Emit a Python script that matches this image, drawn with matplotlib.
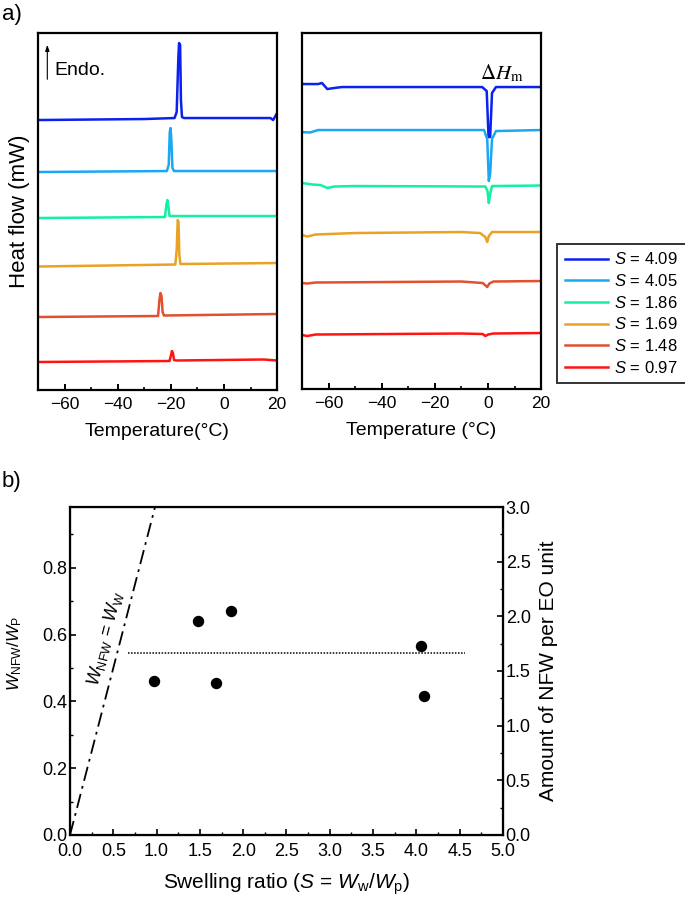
import matplotlib
matplotlib.use("Agg")
import matplotlib.pyplot as plt
from matplotlib import font_manager
from matplotlib.ticker import MultipleLocator

names = {f.name for f in font_manager.fontManager.ttflist}
NARROW = "Liberation Sans Narrow" if "Liberation Sans Narrow" in names else "Liberation Sans"

plt.rcParams["font.family"] = ["Liberation Sans", "DejaVu Sans"]
plt.rcParams["mathtext.fontset"] = "custom"
plt.rcParams["mathtext.rm"] = "Liberation Sans"
plt.rcParams["mathtext.it"] = "Liberation Sans:italic"

# ---- panel a: DSC traces (heat flow in arbitrary, offset units) ----
labels = ["4.09", "4.05", "1.86", "1.69", "1.48", "0.97"]
colors = ["#0c20ee", "#1aa8f5", "#12f0a0", "#e8a224", "#e2502e", "#ff1414"]

# cooling scans (left)
cool_T = [
    [-70, -30, -18.6, -17.8, -17.2, -16.9, -16.5, -16.2, -15.8, -15, 17.5, 18.5, 20],
    [-70, -21.5, -20.8, -20.4, -20.1, -19.8, -19.4, -18.8, 20],
    [-70, -22.2, -21.7, -21.3, -20.9, -20.5, 20],
    [-70, -18.3, -17.8, -17.4, -17.1, -16.8, -16.4, 20],
    [-70, -24.8, -24.3, -23.9, -23.5, -23.1, -22.6, 20],
    [-70, -20.5, -20.0, -19.6, -19.2, -18.8, -18, 15, 20],
]
cool_H = [
    [270, 271, 272, 278, 330, 347, 345, 290, 273, 272, 272, 270, 277],
    [218, 219, 225, 258, 262, 250, 222, 219, 219],
    [172, 173, 185, 190, 183, 174, 174],
    [123.5, 125.5, 140, 170, 168, 135, 126, 127],
    [73, 74, 90, 97, 94, 78, 74.5, 76],
    [28, 29, 34, 39, 37, 30, 29.5, 30.5, 29.5],
]

# heating scans (right)
heat_T = [
    [-70, -64, -62.5, -60.5, -58, -55, -2.2, -0.5, 0.2, 0.8, 1.5, 3, 20],
    [-70, -67, -64, -1.5, -0.3, 0.3, 0.8, 1.5, 3, 20],
    [-70, -66, -63, -60.5, -58, -50, -1, -0.2, 0.3, 0.8, 1.5, 20],
    [-70, -68, -65, -50, -10, -3, -1, -0.3, 0.3, 1.5, 20],
    [-70, -68, -65, -10, -2, -0.3, 0.5, 2, 20],
    [-70, -68, -65, -10, -2, -1, 0, 2, 20],
]
heat_H = [
    [305, 305, 306, 300, 301, 302, 302, 298, 252, 252, 296, 302, 302],
    [257, 256.5, 259, 259, 250, 208, 215, 250, 258, 259],
    [206, 204.5, 204, 201, 202.5, 203, 202.5, 198, 186, 195, 203, 203.5],
    [154, 152.5, 154.5, 156, 157, 156, 152, 147, 153, 157, 157],
    [106, 105.5, 106.5, 107.5, 106, 102, 105.5, 107.5, 108],
    [54, 53, 54.5, 55.5, 55, 53, 54.5, 55.5, 56],
]

# ---- panel b ----
S = [0.97, 1.48, 1.69, 1.86, 4.05, 4.09]
nfw_ratio = [0.46, 0.64, 0.455, 0.672, 0.567, 0.415]
mean_level = 0.545
mean_span = [0.67, 4.56]
ideal_x = [0, 1.0]
ideal_y = [0, 1.0]

fig = plt.figure(figsize=(6.85, 8.98), dpi=100)

axL = fig.add_axes([0.0555, 0.5657, 0.349, 0.3975])
axR = fig.add_axes([0.441, 0.5668, 0.349, 0.3964])

for ax, Ts, Hs, top in [(axL, cool_T, cool_H, 357), (axR, heat_T, heat_H, 356)]:
    for T, H, c, lab in zip(Ts, Hs, colors, labels):
        ax.plot(T, H, color=c, lw=1.8, label=f"$S$ = {lab}")
    ax.set_ylim(0, top)
    ax.set_yticks([])
    ax.set_xticks([-60, -40, -20, 0, 20])
    ax.set_xticklabels(["\u221260", "\u221240", "\u221220", "0", "20"])
    ax.xaxis.set_minor_locator(MultipleLocator(10))
    ax.set_xlim(-70, 20)
    ax.tick_params(axis="x", which="major", direction="in", length=4, width=1.4,
                   labelsize=12.5, pad=5)
    ax.tick_params(axis="x", which="minor", direction="in", length=2.5, width=1.2)
    for sp in ax.spines.values():
        sp.set_linewidth(1.6)

axL.set_xlabel("Temperature(\u00b0C)", fontsize=14, labelpad=8)
axR.set_xlabel("Temperature (\u00b0C)", fontsize=14, labelpad=8)
axL.set_ylabel("Heat flow (mW)", fontsize=16, labelpad=6)

axL.annotate("", xy=(-66.5, 348), xytext=(-66.5, 308),
             arrowprops=dict(arrowstyle="-|>,head_length=0.35,head_width=0.12",
                             color="black", lw=0.8))
axL.text(-63.8, 320, "Endo.", fontsize=14, va="center", ha="left")
axR.text(5, 316, r"$\mathit{\Delta H}_{\mathrm{m}}$", fontsize=15,
         ha="center", va="center", math_fontfamily="stix")

handles, labs = axL.get_legend_handles_labels()
fig.legend(handles, labs, loc="upper left", bbox_to_anchor=(557 / 685, 1 - 244 / 898),
           fontsize=12, frameon=True, fancybox=False, edgecolor="black",
           handlelength=2.6, labelspacing=0.34, borderpad=0.45, handletextpad=0.4,
           borderaxespad=0).get_frame().set_linewidth(1.4)

fig.text(0.003, 0.984, "a)", fontsize=16, va="center")
fig.text(0.003, 0.464, "b)", fontsize=16, va="center")

# panel b
axb = fig.add_axes([0.1022, 0.0702, 0.632, 0.3652])
axb.plot(ideal_x, ideal_y, color="black", lw=1.3, linestyle=(0, (8, 3, 1.5, 3)))
axb.hlines(mean_level, mean_span[0], mean_span[1], color="black", lw=1.1,
           linestyle=(0, (1, 1)))
axb.plot(S, nfw_ratio, "o", color="black", ms=7.2)
axb.set_xlim(0, 5)
axb.set_ylim(0, 0.982)
axb.xaxis.set_major_locator(MultipleLocator(0.5))
axb.xaxis.set_minor_locator(MultipleLocator(0.25))
axb.yaxis.set_major_locator(MultipleLocator(0.2))
axb.yaxis.set_minor_locator(MultipleLocator(0.1))
axb.tick_params(which="major", direction="in", length=4, width=1.2, labelsize=13, pad=2)
axb.tick_params(which="minor", direction="in", length=2.5, width=1.0)
axb.tick_params(axis="x", pad=6)
for lab in axb.get_xticklabels() + axb.get_yticklabels():
    lab.set_family(NARROW)
for sp in axb.spines.values():
    sp.set_linewidth(1.6)
axb.set_xlabel(r"Swelling ratio ($S$ = $W_\mathrm{w}$/$W_\mathrm{p}$)", fontsize=15,
               family=NARROW, labelpad=8)
axb.set_ylabel(r"$W_\mathrm{NFW}$/$W_\mathrm{P}$", fontsize=12.5)
axb.yaxis.set_label_coords(-0.106, 0.555)
axb.text(0.41, 0.59, r"$W_\mathrm{NFW}$ = $W_\mathrm{W}$", fontsize=13,
         rotation=75.5, ha="center", va="center")

axb2 = axb.twinx()
axb2.set_ylim(0, 3.0)
axb2.yaxis.set_major_locator(MultipleLocator(0.5))
axb2.yaxis.set_minor_locator(MultipleLocator(0.25))
axb2.tick_params(which="major", direction="in", length=4, width=1.2, labelsize=13, pad=2)
axb2.tick_params(which="minor", direction="in", length=2.5, width=1.0)
for lab in axb2.get_yticklabels():
    lab.set_family(NARROW)
axb2.set_ylabel("Amount of NFW per EO unit", fontsize=15, family=NARROW, labelpad=6)

fig.savefig("out.png", dpi=100)
